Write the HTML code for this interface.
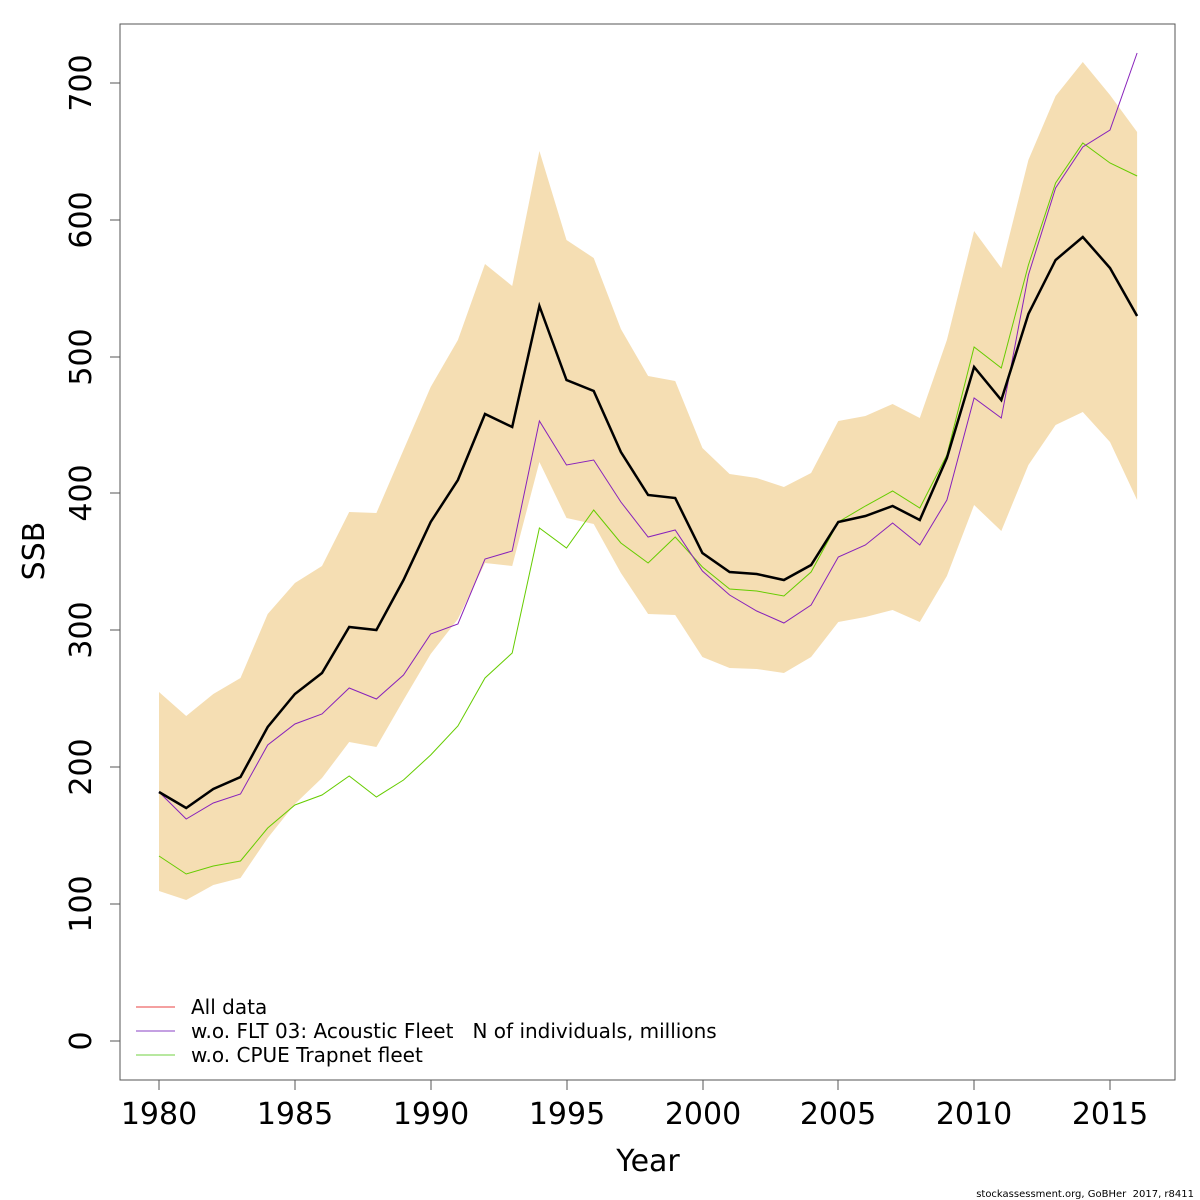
<!DOCTYPE html><html><head><style>body{margin:0;background:#fff}svg{display:block}text{font-family:"DejaVu Sans",sans-serif;white-space:pre}</style></head><body>
<svg id="s" width="1200" height="1200" xmlns="http://www.w3.org/2000/svg">
<rect x="120" y="24" width="1055" height="1056" fill="none" stroke="#555" stroke-width="1"/>
<g id="g"></g>
<g font-size="30" text-anchor="middle" fill="#000">
<text x="159" y="1124">1980</text><text x="295" y="1124">1985</text><text x="431" y="1124">1990</text><text x="567" y="1124">1995</text><text x="703" y="1124">2000</text><text x="838" y="1124">2005</text><text x="974" y="1124">2010</text><text x="1110" y="1124">2015</text>
<text x="648" y="1171">Year</text>
<text transform="translate(44,551) rotate(-90)">SSB</text>
</g>
<g font-size="30" text-anchor="middle">
<text transform="translate(91,1041) rotate(-90)">0</text>
<text transform="translate(91,904) rotate(-90)">100</text>
<text transform="translate(91,767) rotate(-90)">200</text>
<text transform="translate(91,630) rotate(-90)">300</text>
<text transform="translate(91,493) rotate(-90)">400</text>
<text transform="translate(91,357) rotate(-90)">500</text>
<text transform="translate(91,220) rotate(-90)">600</text>
<text transform="translate(91,83) rotate(-90)">700</text>
</g>
<g stroke="#555"><path d="M110 1041H120M110 904H120M110 767H120M110 630H120M110 493H120M110 357H120M110 220H120M110 83H120"/>
<path d="M159 1080V1090M295 1080V1090M431 1080V1090M567 1080V1090M703 1080V1090M838 1080V1090M974 1080V1090M1110 1080V1090"/></g>
<g font-size="20">
<line x1="136" y1="1007" x2="175" y2="1007" stroke="#f08080" stroke-width="1.5"/>
<line x1="136" y1="1031" x2="175" y2="1031" stroke="#b080d8" stroke-width="1.5"/>
<line x1="136" y1="1055" x2="175" y2="1055" stroke="#a0e080" stroke-width="1.5"/>
<text x="191" y="1014">All data</text>
<text x="191" y="1038" xml:space="preserve">w.o. FLT 03: Acoustic Fleet   N of individuals, millions</text>
<text x="191" y="1062">w.o. CPUE Trapnet fleet</text>
</g>
<text x="1194" y="1197" font-size="10" text-anchor="end">stockassessment.org, GoBHer  2017, r8411</text>
</svg>
<script>
var X=i=>159+i*27.17;
var up=[692,716,694,678,614,583,566,512,513,450,387,340,264,286,151,240,258,329,376,381,448,474,478,487,473,421,416,404,418,340,231,268,160,96,62,95,132];
var lo=[891,900,885,878,838,804,778,742,747,700,654,619,563,566,462,518,524,573,614,615,657,668,669,673,657,622,617,610,622,576,505,531,465,425,412,442,500];
var bl=[792,808,789,777,727,694,673,627,630,580,522,480,414,427,306,380,391,452,495,498,553,572,574,580,565,522,516,506,520,458,367,400,314,260,237,268,316];
var pu=[792,819,803,794,745,724,714,688,699,675,634,624,559,551,421,465,460,502,537,530,571,595,611,623,605,557,545,523,545,500,398,418,275,188,147,130,53];
var gr=[856,874,866,861,828,805,795,776,797,780,755,726,678,653,528,548,510,543,563,537,567,589,591,596,572,522,506,491,508,455,347,368,265,183,143,163,176];
function pts(a){return a.map((v,i)=>X(i).toFixed(1)+","+v).join(" ");}
var h='<polygon fill="#f5deb3" points="'+pts(up)+' '+lo.map((v,i)=>X(i).toFixed(1)+","+v).reverse().join(" ")+'"/>';
h+='<polyline fill="none" stroke="#66cc00" stroke-width="1" points="'+pts(gr)+'"/>';
h+='<polyline fill="none" stroke="#8822bb" stroke-width="1" points="'+pts(pu)+'"/>';
h+='<polyline fill="none" stroke="#000" stroke-width="2.5" points="'+pts(bl)+'"/>';
document.getElementById('g').innerHTML=h;
</script>
</body></html>
